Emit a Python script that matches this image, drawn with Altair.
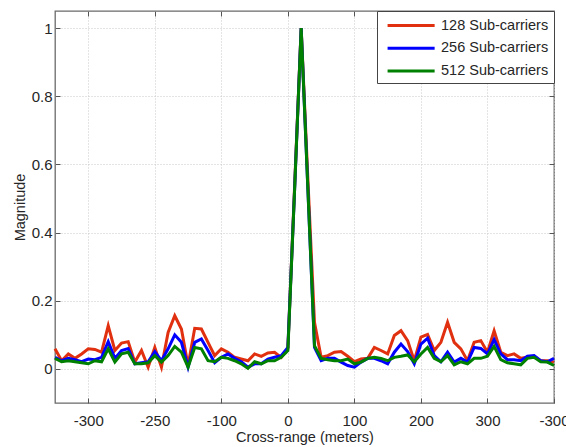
import altair as alt
import pandas as pd

# ---- data ----
cross_range = list(range(-350, 401, 10))

mag_128 = [0.059, 0.024, 0.044, 0.031, 0.044, 0.059, 0.057, 0.049, 0.127, 0.054,
           0.076, 0.080, 0.020, 0.054, 0.005, 0.063, 0.005, 0.107, 0.156, 0.117,
           0.010, 0.119, 0.117, 0.078, 0.039, 0.059, 0.049, 0.034, 0.029, 0.024,
           0.044, 0.037, 0.047, 0.049, 0.034, 0.059, 0.530, 1.000, 0.560, 0.137,
           0.034, 0.039, 0.049, 0.051, 0.037, 0.021, 0.029, 0.031, 0.063, 0.054,
           0.044, 0.098, 0.112, 0.083, 0.024, 0.093, 0.101, 0.054, 0.078, 0.137,
           0.078, 0.059, 0.024, 0.078, 0.083, 0.049, 0.112, 0.049, 0.039, 0.044,
           0.031, 0.034, 0.037, 0.024, 0.024, 0.020]

mag_256 = [0.034, 0.024, 0.031, 0.027, 0.021, 0.029, 0.027, 0.034, 0.080, 0.031,
           0.054, 0.060, 0.015, 0.018, 0.021, 0.051, 0.024, 0.059, 0.100, 0.078,
           0.005, 0.078, 0.088, 0.054, 0.018, 0.034, 0.044, 0.031, 0.021, 0.005,
           0.015, 0.015, 0.029, 0.034, 0.039, 0.063, 0.520, 1.000, 0.530, 0.063,
           0.024, 0.031, 0.031, 0.020, 0.010, 0.005, 0.020, 0.031, 0.031, 0.024,
           0.015, 0.049, 0.073, 0.051, 0.015, 0.073, 0.090, 0.039, 0.021, 0.049,
           0.020, 0.031, 0.020, 0.063, 0.060, 0.044, 0.086, 0.044, 0.027, 0.027,
           0.024, 0.037, 0.039, 0.024, 0.021, 0.031]

mag_512 = [0.031, 0.021, 0.024, 0.021, 0.018, 0.015, 0.024, 0.021, 0.059, 0.020,
           0.044, 0.049, 0.015, 0.015, 0.018, 0.039, 0.020, 0.039, 0.066, 0.049,
           0.005, 0.063, 0.059, 0.024, 0.021, 0.034, 0.031, 0.024, 0.015, 0.002,
           0.021, 0.015, 0.024, 0.024, 0.034, 0.054, 0.520, 1.000, 0.530, 0.068,
           0.031, 0.027, 0.024, 0.024, 0.029, 0.015, 0.020, 0.031, 0.034, 0.031,
           0.024, 0.034, 0.037, 0.041, 0.021, 0.044, 0.063, 0.031, 0.021, 0.039,
           0.012, 0.021, 0.015, 0.031, 0.031, 0.037, 0.066, 0.027, 0.018, 0.015,
           0.012, 0.031, 0.034, 0.021, 0.020, 0.010]

series_names = ["128 Sub-carriers", "256 Sub-carriers", "512 Sub-carriers"]
series_colors = ["#e0300f", "#0000ff", "#008000"]

x_ticks = [-300, -200, -100, 0, 100, 200, 300, 400]
x_tick_labels = ["-300", "-250", "-100", "0", "100", "200", "300", "-300"]
y_ticks = [0, 0.2, 0.4, 0.6, 0.8, 1.0]

# ---- table ----
rows = []
for name, vals in zip(series_names, [mag_128, mag_256, mag_512]):
    for xv, yv in zip(cross_range, vals):
        rows.append({"x": xv, "y": yv, "series": name})
df = pd.DataFrame(rows)

label_expr = " : ".join(
    [f"datum.value == {v} ? '{t}'" for v, t in zip(x_ticks, x_tick_labels)] + ["''"]
)

FONT = "Liberation Sans"
TXT = "#262626"
FS = 15
xscale = alt.Scale(domain=[-350, 400], nice=False, zero=False)
yscale = alt.Scale(domain=[-0.1, 1.05], nice=False, zero=False)

lines = alt.Chart(df).mark_line(strokeWidth=3).encode(
    x=alt.X("x:Q", scale=xscale,
            axis=alt.Axis(orient="bottom", values=x_ticks, labelExpr=label_expr,
                          title="Cross-range (meters)", offset=-5, tickSize=5,
                          tickColor="#555", domain=False, grid=True,
                          gridColor="#c8c8c8", gridDash=[1, 2], labelPadding=10,
                          titlePadding=2, labelFontSize=FS, titleFontSize=14.5,
                          titleFontWeight="normal", labelColor=TXT, titleColor=TXT,
                          labelFont=FONT, titleFont=FONT, labelFlush=False)),
    y=alt.Y("y:Q", scale=yscale,
            axis=alt.Axis(orient="left", values=y_ticks, format="~g",
                          title="Magnitude", offset=-5, tickSize=5,
                          tickColor="#555", domain=False, grid=True,
                          gridColor="#c8c8c8", gridDash=[1, 2], labelPadding=3,
                          titlePadding=4, labelFontSize=FS, titleFontSize=14.5,
                          titleFontWeight="normal", labelColor=TXT, titleColor=TXT,
                          labelFont=FONT, titleFont=FONT)),
    color=alt.Color("series:N",
                    scale=alt.Scale(domain=series_names, range=series_colors),
                    legend=alt.Legend(title=None, orient="top-right", offset=0,
                                      symbolType="M-0.5,0H5.5", symbolSize=246,
                                      symbolStrokeWidth=3, labelFontSize=14.5,
                                      labelFont=FONT, labelColor=TXT,
                                      labelOffset=40, rowPadding=6.7, padding=5,
                                      strokeColor="#444", fillColor="white")),
)

ticks_top_right = alt.Chart(df).mark_point(opacity=0).encode(
    x=alt.X("x:Q", scale=xscale,
            axis=alt.Axis(orient="top", values=x_ticks, labels=False, title=None,
                          offset=-5, tickSize=5, tickColor="#555", domain=False,
                          grid=False)),
    y=alt.Y("y:Q", scale=yscale,
            axis=alt.Axis(orient="right", values=y_ticks, labels=False, title=None,
                          offset=-5, tickSize=5, tickColor="#555", domain=False,
                          grid=False)),
)

chart = alt.layer(lines, ticks_top_right).resolve_axis(
    x="independent", y="independent"
).properties(
    width=499, height=392,
    padding={"left": 55, "top": 11, "right": 12, "bottom": 44},
    autosize=alt.AutoSizeParams(type="none"),
    background="white",
).configure_view(stroke="#6a6a6a", strokeWidth=1.3)

chart.save("out.html", embed_options={"renderer": "svg", "actions": False})
